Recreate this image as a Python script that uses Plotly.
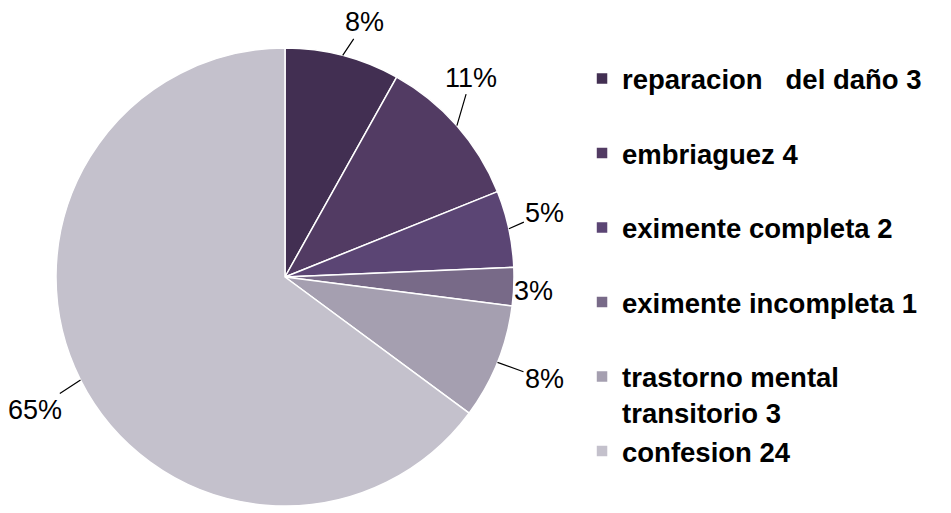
import math
import plotly.graph_objects as go

labels = ["reparacion\u00a0\u00a0\u00a0del daño 3<br> ", "embriaguez 4<br> ", "eximente completa 2<br> ",
          "eximente incompleta 1<br> ", "trastorno mental<br>transitorio 3", "confesion 24"]
values = [3, 4, 2, 1, 3, 24]
colors = ["#422f52", "#523b63", "#5b4574", "#786a88", "#a59fb0", "#c4c1cc"]

# label offsets from slice edge (px)
label_offsets = [(22, -33), (14, -48), (36, -16), (20, 4), (47, 17), (-46, 30)]

W, H = 951, 513
cx, cy, r = 277, 269, 229

fig = go.Figure()
fig.add_trace(go.Pie(
    labels=labels, values=values, sort=False, direction="clockwise", rotation=0,
    marker=dict(colors=colors, line=dict(color="white", width=1.5)),
    textinfo="none", hoverinfo="label+percent",
    domain=dict(x=[(cx - r) / W, (cx + r) / W], y=[1 - (cy + r) / H, 1 - (cy - r) / H]),
))

total = sum(values)
cum = 0
annotations = []
for v, (ox, oy) in zip(values, label_offsets):
    mid = (cum + v / 2) / total * 2 * math.pi
    cum += v
    px = cx + r * math.sin(mid)
    py = cy - r * math.cos(mid)
    annotations.append(dict(
        x=px / W, y=1 - py / H, xref="paper", yref="paper",
        text="{}%".format(round(v / total * 100)),
        showarrow=True, arrowhead=0, arrowwidth=1.2, arrowcolor="black",
        ax=ox, ay=oy, standoff=0,
        font=dict(family="Liberation Sans, Arial", size=27, color="black"),
    ))

fig.update_layout(
    width=W, height=H,
    margin=dict(l=0, r=0, t=0, b=0),
    paper_bgcolor="white",
    showlegend=True,
    legend=dict(x=0.6036, y=0.91, xanchor="left", yanchor="top", valign="top",
                font=dict(family="Liberation Sans, Arial", size=27.5, color="black", weight="bold"),
                itemclick=False),
    annotations=annotations,
)

fig.write_html("out.html")
